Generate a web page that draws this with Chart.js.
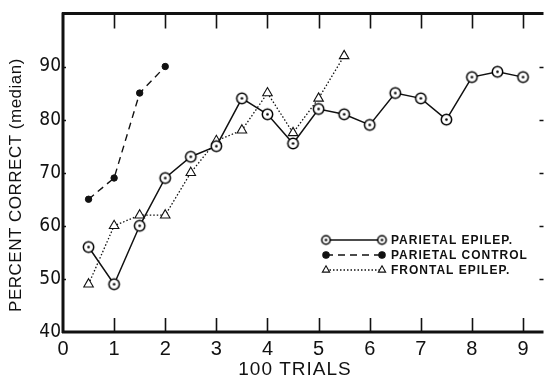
<!DOCTYPE html>
<html>
<head>
<meta charset="utf-8">
<script src="https://cdn.jsdelivr.net/npm/chart.js@4.4.1/dist/chart.umd.min.js"></script>
<style>
  body { margin: 0; background: #fff; }
  #wrap { width: 551px; height: 381px; }
</style>
</head>
<body>
<div id="wrap"><canvas id="trialsChart" width="551" height="381"></canvas></div>
<script>
// values (x in hundreds of trials)
const trialsEpilep = [0.5, 1, 1.5, 2, 2.5, 3, 3.5, 4, 4.5, 5, 5.5, 6, 6.5, 7, 7.5, 8, 8.5, 9];
const parietalEpilep = [56, 49, 60, 69, 73, 75, 84, 81, 75.5, 82, 81, 79, 85, 84, 80, 88, 89, 88];
const trialsControl = [0.5, 1, 1.5, 2];
const parietalControl = [65, 69, 85, 90];
const trialsFrontal = [0.5, 1, 1.5, 2, 2.5, 3, 3.5, 4, 4.5, 5, 5.5];
const frontalEpilep = [49, 60, 62, 62, 70, 76, 78, 85, 77.5, 84, 92];
const xTickValues = [0, 1, 2, 3, 4, 5, 6, 7, 8, 9];
const yTickValues = [40, 50, 60, 70, 80, 90];
const legendLabels = ['PARIETAL EPILEP.', 'PARIETAL CONTROL', 'FRONTAL EPILEP.'];
const xTitle = '100 TRIALS';
const yTitle = 'PERCENT CORRECT (median)';

const ink = '#111';
const sans = '"Liberation Sans", Arial, sans-serif';

// circle with a dot in the middle
function makeDotCircle(r) {
  const c = document.createElement('canvas');
  const s = Math.ceil(r * 2 + 4);
  c.width = s; c.height = s;
  const g = c.getContext('2d');
  g.beginPath();
  g.arc(s / 2, s / 2, r, 0, Math.PI * 2);
  g.fillStyle = '#fff';
  g.fill();
  g.lineWidth = 1.5;
  g.strokeStyle = '#000';
  g.stroke();
  g.beginPath();
  g.arc(s / 2, s / 2, 1.3, 0, Math.PI * 2);
  g.fillStyle = '#000';
  g.fill();
  return c;
}
const dotCircle = makeDotCircle(5.2);
const dotCircleSmall = makeDotCircle(4.2);

function toPoints(xs, ys) {
  return xs.map((x, i) => ({ x: x, y: ys[i] }));
}

const frame = {
  id: 'frame',
  afterDraw(chart) {
    const ctx = chart.ctx;
    const a = chart.chartArea;
    const xs = chart.scales.x;
    const ys = chart.scales.y;
    ctx.save();
    ctx.strokeStyle = ink;
    ctx.lineWidth = 3;
    ctx.beginPath();
    ctx.moveTo(a.left, a.top - 1);
    ctx.lineTo(a.left, a.bottom + 1);
    ctx.moveTo(a.left - 1, a.bottom);
    ctx.lineTo(a.right, a.bottom);
    ctx.moveTo(a.left - 1, a.top);
    ctx.lineTo(a.right, a.top);
    ctx.stroke();

    ctx.lineWidth = 1.6;
    ctx.beginPath();
    xTickValues.slice(1).forEach(v => {
      const px = Math.round(xs.getPixelForValue(v)) + 0.5;
      ctx.moveTo(px, a.bottom);
      ctx.lineTo(px, a.bottom - 14);
      ctx.moveTo(px, a.top);
      ctx.lineTo(px, a.top + 15);
    });
    yTickValues.slice(1).forEach(v => {
      const py = Math.round(ys.getPixelForValue(v)) + 0.5;
      ctx.moveTo(a.right, py);
      ctx.lineTo(a.right - 4, py);
      ctx.moveTo(a.left, py);
      ctx.lineTo(a.left + 3, py);
    });
    ctx.stroke();

    // axis titles
    ctx.fillStyle = ink;
    ctx.textAlign = 'center';
    ctx.textBaseline = 'middle';
    ctx.font = '19px ' + sans;
    ctx.letterSpacing = '1px';
    ctx.fillText(xTitle, 295, 370);
    ctx.save();
    ctx.translate(16, 185);
    ctx.rotate(-Math.PI / 2);
    ctx.font = '17px ' + sans;
    ctx.letterSpacing = '0.5px';
    ctx.fillText(yTitle, 0, 0);
    ctx.restore();

    // legend inside the plot
    const x0 = 326, x1 = 382, tx = 391;
    const rows = [240, 255, 270];
    chart.data.datasets.forEach((ds, i) => {
      const y = rows[i];
      ctx.beginPath();
      ctx.setLineDash(ds.borderDash || []);
      ctx.lineWidth = ds.borderWidth;
      ctx.strokeStyle = ink;
      ctx.moveTo(x0, y);
      ctx.lineTo(x1, y);
      ctx.stroke();
      ctx.setLineDash([]);
      [x0, x1].forEach(px => {
        ctx.fillStyle = ds.pointBackgroundColor;
        ctx.strokeStyle = ink;
        ctx.lineWidth = 1.1;
        Chart.helpers.drawPoint(ctx, {
          pointStyle: i === 0 ? dotCircleSmall : ds.pointStyle,
          radius: i === 2 ? 4.2 : ds.pointRadius,
          borderWidth: 1.1,
          rotation: 0
        }, px, y);
      });
      ctx.fillStyle = ink;
      ctx.textAlign = 'left';
      ctx.font = 'bold 12px ' + sans;
      ctx.letterSpacing = '1px';
      ctx.fillText(legendLabels[i], tx, y + 1);
    });
    ctx.restore();
  }
};

new Chart(document.getElementById('trialsChart'), {
  type: 'line',
  data: {
    datasets: [
      {
        label: legendLabels[0],
        data: toPoints(trialsEpilep, parietalEpilep),
        borderColor: ink,
        borderWidth: 1.5,
        pointStyle: dotCircle,
        pointRadius: 6,
        pointBackgroundColor: '#fff',
        pointBorderColor: ink
      },
      {
        label: legendLabels[1],
        data: toPoints(trialsControl, parietalControl),
        borderColor: ink,
        borderWidth: 1.4,
        borderDash: [7, 5],
        pointStyle: 'circle',
        pointRadius: 3.2,
        pointBackgroundColor: ink,
        pointBorderColor: ink,
        pointBorderWidth: 1
      },
      {
        label: legendLabels[2],
        data: toPoints(trialsFrontal, frontalEpilep),
        borderColor: ink,
        borderWidth: 1.3,
        borderDash: [1.5, 2],
        pointStyle: 'triangle',
        pointRadius: 5.5,
        pointBackgroundColor: '#fff',
        pointBorderColor: ink,
        pointBorderWidth: 1.1
      }
    ]
  },
  options: {
    responsive: false,
    animation: false,
    layout: { padding: { top: 12, right: 0, left: 0, bottom: 0 } },
    plugins: { legend: { display: false }, tooltip: { enabled: false } },
    elements: { line: { tension: 0 } },
    scales: {
      x: {
        type: 'linear',
        min: 0,
        max: 9.4,
        grid: { display: false, drawTicks: false },
        border: { display: false },
        afterFit: s => { s.height = 49; },
        afterBuildTicks: s => { s.ticks = xTickValues.map(v => ({ value: v })); },
        ticks: {
          padding: 5,
          color: ink,
          font: { family: sans, size: 20 }
        }
      },
      y: {
        min: 40,
        max: 100,
        grid: { display: false, drawTicks: false },
        border: { display: false },
        afterFit: s => { s.width = 63; },
        afterBuildTicks: s => { s.ticks = yTickValues.map(v => ({ value: v })); },
        ticks: {
          padding: 2,
          color: ink,
          font: { family: '"Liberation Sans Narrow", "DejaVu Sans Condensed", sans-serif', size: 19 }
        }
      }
    }
  },
  plugins: [frame]
});
</script>
</body>
</html>
